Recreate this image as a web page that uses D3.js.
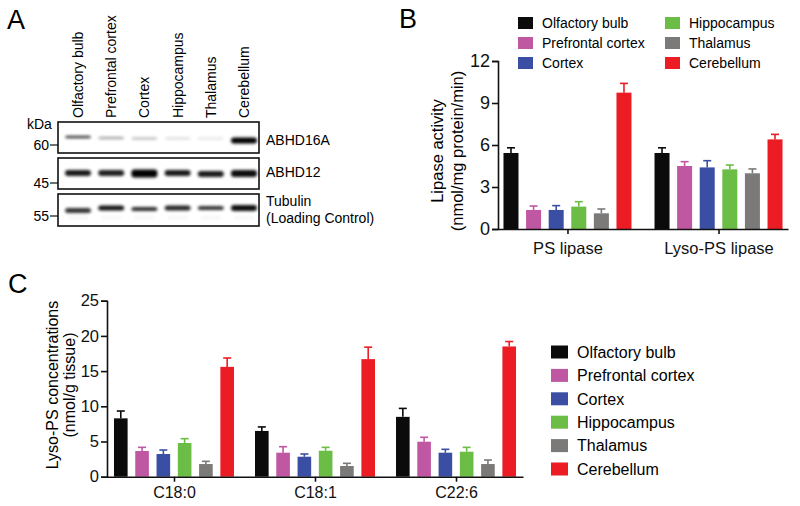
<!DOCTYPE html>
<html><head><meta charset="utf-8">
<script src="https://cdn.jsdelivr.net/npm/d3@7"></script>
<style>body{margin:0;background:#fff}svg{display:block;font-family:"Liberation Sans",Arial,Helvetica,sans-serif}</style>
</head><body><svg id="c" width="800" height="506"></svg>
<script>
// ---------- data ----------
const tissues = ["Olfactory bulb","Prefrontal cortex","Cortex","Hippocampus","Thalamus","Cerebellum"];
const colors = ["#0b0b0b","#c057a3","#3a4fa3","#6bbd46","#7b7a79","#ec1c24"];
const blotNames = ["ABHD16A","ABHD12","Tubulin"];
const blotMarkers = ["60","45","55"];
const abhd16aBands = [0.8,0.35,0.25,0.13,0.1,1.0];
const abhd12Bands = [0.9,0.88,1.0,0.9,0.9,0.95];
const tubulinBands = [0.8,0.92,0.82,0.85,0.8,0.95];
const groupsB = ["PS lipase","Lyso-PS lipase"];
const psLipase = [5.43,1.36,1.36,1.6,1.12,9.74];
const psLipaseErr = [0.37,0.28,0.31,0.35,0.31,0.66];
const lysoPsLipase = [5.43,4.5,4.4,4.26,3.98,6.4];
const lysoPsLipaseErr = [0.37,0.31,0.48,0.31,0.31,0.36];
const ticksB = [0,3,6,9,12];
const groupsC = ["C18:0","C18:1","C22:6"];
const c180 = [8.29,3.65,3.22,4.79,1.8,15.6];
const c180Err = [1.04,0.52,0.57,0.61,0.38,1.26];
const c181 = [6.5,3.41,2.84,3.69,1.52,16.7];
const c181Err = [0.57,0.85,0.38,0.48,0.38,1.7];
const c226 = [8.5,4.97,3.41,3.55,1.8,18.5];
const c226Err = [1.2,0.63,0.48,0.62,0.57,0.7];
const ticksC = [0,5,10,15,20,25];

const svg = d3.select("#c");
const defs = svg.append("defs");
defs.append("filter").attr("id","blur").attr("x","-50%").attr("y","-100%").attr("width","200%").attr("height","300%")
  .append("feGaussianBlur").attr("stdDeviation",1.4);

function letter(t,x,y){svg.append("text").attr("x",x).attr("y",y).attr("font-size",27).text(t);}
letter("A",7,29); letter("B",399,28); letter("C",8,293);

// ---------- Panel A ----------
const laneX = d3.scalePoint(tissues,[78,244]);
const gA = svg.append("g");
gA.selectAll("text.lane").data(tissues).join("text")
  .attr("transform",d=>`translate(${laneX(d)+5},118) rotate(-90)`)
  .attr("font-size",14).text(d=>d);
const boxes = [[122,153],[158,189],[194,226]];
const blotData = [abhd16aBands,abhd12Bands,tubulinBands];
const bandY = [[137,138,138.5,138.5,138.5,140.5],[173,173,173.5,173,174,173.5],[210.5,208,209,208,208,208]];
const bandH = [[2.5,2.5,2.5,2.5,2.5,6],[6,6,8,6,6,7],[5,5,4,5,4,6]];
const markerY = [145,183,216];
gA.append("text").attr("x",27).attr("y",129).attr("font-size",14).text("kDa");
boxes.forEach((b,i)=>{
  const g = gA.append("g");
  g.append("rect").attr("x",58).attr("y",b[0]).attr("width",201).attr("height",b[1]-b[0])
    .attr("fill","#fff").attr("stroke","#111").attr("stroke-width",1.6);
  g.selectAll("rect.band").data(blotData[i]).join("rect")
    .attr("x",(d,j)=>laneX(tissues[j])-13).attr("width",26)
    .attr("y",(d,j)=>bandY[i][j]-bandH[i][j]/2).attr("height",(d,j)=>bandH[i][j])
    .attr("rx",3).attr("fill","#000").attr("opacity",d=>d).attr("filter","url(#blur)");
  if(i===2){
    g.selectAll("rect.faint").data(blotData[i]).join("rect")
      .attr("x",(d,j)=>laneX(tissues[j])-10).attr("width",20)
      .attr("y",216).attr("height",3).attr("fill","#000").attr("opacity",0.04).attr("filter","url(#blur)");
  }
  g.append("line").attr("x1",50).attr("x2",58).attr("y1",markerY[i]).attr("y2",markerY[i]).attr("stroke","#111").attr("stroke-width",1.2);
  g.append("text").attr("x",49).attr("y",markerY[i]).attr("dy","0.35em").attr("text-anchor","end").attr("font-size",14).text(blotMarkers[i]);
});
gA.append("text").attr("x",266).attr("y",145).attr("font-size",14).text(blotNames[0]);
gA.append("text").attr("x",266).attr("y",177).attr("font-size",14).text(blotNames[1]);
gA.append("text").attr("x",266).attr("y",206).attr("font-size",14).text(blotNames[2]);
gA.append("text").attr("x",266).attr("y",223).attr("font-size",14).text("(Loading Control)");

// ---------- helper for bar panels ----------
function barPanel(opt){
  const g = svg.append("g");
  const y = d3.scaleLinear().domain([opt.ticks[0],opt.ticks[opt.ticks.length-1]]).range(opt.yRange);
  const x = d3.scalePoint().domain(opt.groups).range(opt.xRange).padding(opt.pad);
  const xi = d3.scaleBand().domain(tissues).range([-opt.gw/2,opt.gw/2]).paddingInner(opt.pi);
  opt.groups.forEach((grp,gi)=>{
    const vals = opt.values[gi], errs = opt.errs[gi];
    const gg = g.append("g").attr("transform",`translate(${x(grp)},0)`);
    const items = tissues.map((t,k)=>({t,v:vals[k],e:errs[k],c:colors[k]}));
    gg.selectAll("line.err").data(items).join("line")
      .attr("x1",d=>xi(d.t)+xi.bandwidth()/2).attr("x2",d=>xi(d.t)+xi.bandwidth()/2)
      .attr("y1",d=>y(d.v)).attr("y2",d=>y(d.v+d.e)).attr("stroke",d=>d.c).attr("stroke-width",1.6);
    gg.selectAll("line.cap").data(items).join("line")
      .attr("x1",d=>xi(d.t)+xi.bandwidth()/2-4).attr("x2",d=>xi(d.t)+xi.bandwidth()/2+4)
      .attr("y1",d=>y(d.v+d.e)).attr("y2",d=>y(d.v+d.e)).attr("stroke",d=>d.c).attr("stroke-width",1.6);
    gg.selectAll("rect").data(items).join("rect")
      .attr("x",d=>xi(d.t)).attr("width",xi.bandwidth())
      .attr("y",d=>y(d.v)).attr("height",d=>y(0)-y(d.v)).attr("fill",d=>d.c);
  });
  const ya = g.append("g").attr("transform",`translate(${opt.xRange[0]},0)`)
    .call(d3.axisLeft(y).tickValues(opt.ticks).tickSize(6).tickPadding(2).tickFormat(d3.format("d")));
  ya.selectAll("text").attr("font-size",opt.tickFont).attr("fill","#111");
  const xa = g.append("g").attr("transform",`translate(0,${opt.yRange[0]})`)
    .call(d3.axisBottom(x).tickSize(5).tickPadding(opt.xPad).tickSizeOuter(0));
  xa.selectAll("text").attr("font-size",opt.xFont).attr("fill","#111");
  [ya,xa].forEach(a=>{a.attr("font-family",null);a.selectAll("path,line").attr("stroke","#111").attr("stroke-width",1.6);});
  const ly = g.append("text").attr("transform",`translate(${opt.labelX},${opt.labelY}) rotate(-90)`)
    .attr("text-anchor","middle").attr("font-size",opt.labelFont);
  ly.append("tspan").attr("x",0).attr("dy",0).text(opt.label[0]);
  ly.append("tspan").attr("x",0).attr("dy",opt.lineGap).text(opt.label[1]);
  return g;
}

barPanel({groups:groupsB,values:[psLipase,lysoPsLipase],errs:[psLipaseErr,lysoPsLipaseErr],
  ticks:ticksB,yRange:[229,61],xRange:[498,788],pad:0.46,gw:128,pi:0.336,
  tickFont:18,xFont:16.5,xPad:8,label:["Lipase activity","(nmol/mg protein/min)"],labelX:443,labelY:151,lineGap:20,labelFont:16.5});
barPanel({groups:groupsC,values:[c180,c181,c226],errs:[c180Err,c181Err,c226Err],
  ticks:ticksC,yRange:[476.7,300.7],xRange:[107,523],pad:0.475,gw:120,pi:0.36,
  tickFont:16.5,xFont:16,xPad:5,label:["Lyso-PS concentrations","(nmol/g tissue)"],labelX:58,labelY:385,lineGap:16.5,labelFont:16});

// ---------- legends ----------
const legB = svg.append("g");
legB.selectAll("g").data(tissues).join("g")
  .attr("transform",(d,i)=>`translate(${i<3?518:665},${23+(i%3)*20})`)
  .each(function(d,i){
    const s=d3.select(this);
    s.append("rect").attr("x",0).attr("y",-6).attr("width",15).attr("height",12).attr("fill",colors[i]);
    s.append("text").attr("x",24).attr("dy","0.36em").attr("font-size",14).text(d);
  });
const legC = svg.append("g");
legC.selectAll("g").data(tissues).join("g")
  .attr("transform",(d,i)=>`translate(551,${352+i*23.4})`)
  .each(function(d,i){
    const s=d3.select(this);
    s.append("rect").attr("x",0).attr("y",-6.5).attr("width",17).attr("height",13).attr("fill",colors[i]);
    s.append("text").attr("x",26).attr("dy","0.36em").attr("font-size",16).text(d);
  });
</script></body></html>
